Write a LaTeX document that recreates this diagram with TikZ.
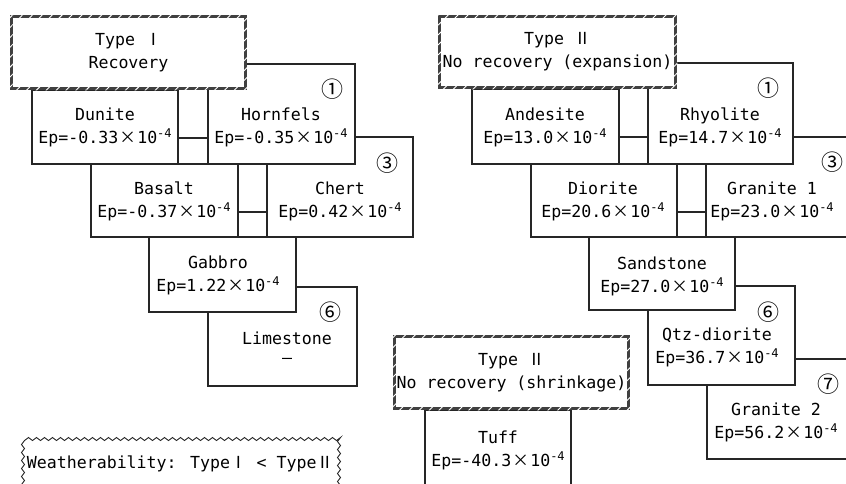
\documentclass[tikz,border=0pt]{standalone}
\usepackage{fontspec}
\setmainfont{DejaVu Sans Mono}
\newfontfamily\cjk{Noto Sans CJK JP}
\usetikzlibrary{patterns.meta,decorations.pathmorphing}
\newcommand\tms{\makebox[19pt]{\cjk ×}}
\newcommand\ex[1]{\raisebox{5.5pt}{\fontsize{12}{12}\selectfont #1}}
\begin{document}
\begin{tikzpicture}[x=1pt,y=-1pt,
  font=\fontsize{16.6}{23}\selectfont,
  rock/.style={draw=black!85, line width=1.4pt, fill=white, anchor=north west, inner sep=0pt, outer sep=0pt},
  txt/.style={align=center, inner sep=0pt},
  typebox/.style={draw=black!75, line width=3.5pt, fill=white, inner sep=0pt, align=center},
  hatch/.style={pattern={Lines[angle=45,distance=7pt,line width=0.9pt]}, pattern color=white, even odd rule},
  num/.style={font=\cjk\fontsize{22}{22}\selectfont, inner sep=0pt},
  conn/.style={draw=black!85, line width=1.4pt},
  wavy/.style={draw=black!85, line width=0.9pt, fill=white, decorate, decoration={snake, amplitude=1.5pt, segment length=8pt}, inner sep=0pt}
]
\useasboundingbox (0,0) rectangle (846,483);
\clip (0,0) rectangle (846,483);

% ---- left group (back to front)
\node[rock, minimum width=149, minimum height=99] (limestone) at (208,287) {};
\node[rock, minimum width=147, minimum height=75] (gabbro) at (149,237) {};
\node[rock, minimum width=146, minimum height=100] (chert) at (267,137) {};
\node[rock, minimum width=147, minimum height=73] (basalt) at (91,164) {};
\node[rock, minimum width=147, minimum height=100] (hornfels) at (208,64) {};
\node[rock, minimum width=146, minimum height=74] (dunite) at (32,90) {};
\node[typebox, minimum width=234, minimum height=72] (typeI) at (128.5,52.5) {Type {\cjk Ⅰ}\\Recovery};
\fill[hatch] (typeI.north west) rectangle (typeI.south east)
  ([shift={(3.5,3.5)}]typeI.north west) rectangle ([shift={(-3.5,-3.5)}]typeI.south east);

\draw[conn] (dunite.east |- 0,138) -- (hornfels.west |- 0,138);
\draw[conn] (basalt.east |- 0,212) -- (chert.west |- 0,212);

% ---- right group (back to front)
\node[rock, minimum width=200, minimum height=100] (granite2) at (707,359) {};
\node[rock, minimum width=147, minimum height=99] (qtzdiorite) at (648,286) {};
\node[rock, minimum width=146, minimum height=73] (sandstone) at (589,237) {};
\node[rock, minimum width=200, minimum height=100] (granite1) at (706,137) {};
\node[rock, minimum width=146, minimum height=73] (diorite) at (531,164) {};
\node[rock, minimum width=145, minimum height=101] (rhyolite) at (648,63) {};
\node[rock, minimum width=147, minimum height=75] (andesite) at (472,89) {};
\node[typebox, minimum width=236, minimum height=71] (typeII) at (557.5,52) {Type {\cjk Ⅱ}\\No recovery (expansion)};
\fill[hatch] (typeII.north west) rectangle (typeII.south east)
  ([shift={(3.5,3.5)}]typeII.north west) rectangle ([shift={(-3.5,-3.5)}]typeII.south east);

\draw[conn] (andesite.east |- 0,137) -- (rhyolite.west |- 0,137);
\draw[conn] (diorite.east |- 0,212) -- (granite1.west |- 0,212);

% ---- shrinkage group
\node[rock, minimum width=146, minimum height=100] (tuff) at (425,410) {};
\node[typebox, minimum width=234, minimum height=72] (typeIIb) at (511.5,372.5) {Type {\cjk Ⅱ}\\No recovery (shrinkage)};
\fill[hatch] (typeIIb.north west) rectangle (typeIIb.south east)
  ([shift={(3.5,3.5)}]typeIIb.north west) rectangle ([shift={(-3.5,-3.5)}]typeIIb.south east);

% ---- weatherability
\node[wavy, minimum width=316, minimum height=57] (weather) at (180,463.5) {Weatherability: Type{\cjk Ⅰ} < Type{\cjk Ⅱ}};

% ---- texts
\node[txt] (tDunite) at (105,127) {Dunite\\Ep=-0.33\tms10\ex{-4}};
\node[txt] (tHornfels) at (281,127) {Hornfels\\Ep=-0.35\tms10\ex{-4}};
\node[txt] (tBasalt) at (164,201) {Basalt\\Ep=-0.37\tms10\ex{-4}};
\node[txt] (tChert) at (340,201) {Chert\\Ep=0.42\tms10\ex{-4}};
\node[txt] (tGabbro) at (218,275) {Gabbro\\Ep=1.22\tms10\ex{-4}};
\node[txt] (tLimestone) at (287,350) {Limestone\\\raisebox{4pt}{—}};
\node[txt] (tAndesite) at (545,127) {Andesite\\Ep=13.0\tms10\ex{-4}};
\node[txt] (tRhyolite) at (720,127) {Rhyolite\\Ep=14.7\tms10\ex{-4}};
\node[txt] (tDiorite) at (603,201) {Diorite\\Ep=20.6\tms10\ex{-4}};
\node[txt] (tGranite1) at (772,201) {Granite 1\\Ep=23.0\tms10\ex{-4}};
\node[txt] (tSandstone) at (662,276) {Sandstone\\Ep=27.0\tms10\ex{-4}};
\node[txt] (tQtz) at (717,347) {Qtz-diorite\\Ep=36.7\tms10\ex{-4}};
\node[txt] (tGranite2) at (776,422) {Granite 2\\Ep=56.2\tms10\ex{-4}};
\node[txt] (tTuff) at (498,450) {Tuff\\Ep=-40.3\tms10\ex{-4}};

% ---- circled numbers
\node[num] (n1a) at (332,89) {①};
\node[num] (n3a) at (387,163) {③};
\node[num] (n6a) at (330,312) {⑥};
\node[num] (n1b) at (768,88) {①};
\node[num] (n3b) at (832,162) {③};
\node[num] (n6b) at (768,312) {⑥};
\node[num] (n7b) at (828,384) {⑦};
\end{tikzpicture}
\end{document}
